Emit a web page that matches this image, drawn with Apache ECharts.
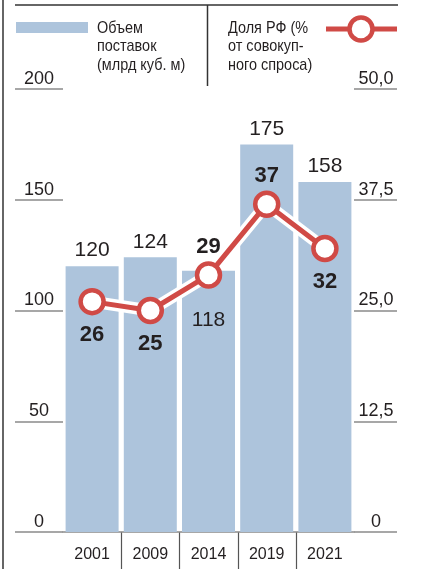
<!DOCTYPE html>
<html><head><meta charset="utf-8">
<script src="https://cdn.jsdelivr.net/npm/echarts@6/dist/echarts.min.js"></script>
<style>html,body{margin:0;padding:0;background:#fff}#c{width:425px;height:569px}</style>
</head><body><div id="c"></div>
<script>
// ---- data ----
const categories = ['2001', '2009', '2014', '2019', '2021'];
const volume = [120, 124, 118, 175, 158];          // млрд куб. м (left axis)
const share = [26, 25, 29, 37, 32];                // % (right axis)
const leftTicks = { min: 0, max: 200, interval: 50 };
const rightTicks = { min: 0, max: 50, interval: 12.5 };
const legendVolume = 'Объем\nпоставок\n(млрд куб. м)';
const legendShare = 'Доля РФ (%\nот совокуп-\nного спроса)';

// ---- styling ----
const SANS = "'Liberation Sans',Arial,sans-serif";
const BAR = '#adc4dc';
const RED = '#d04a46';
const TXT = '#231f20';
const GREY = '#8a8a8a';
const shareLabelPos = ['bottom', 'bottom', 'top', 'top', 'bottom'];
const volumeInside = [false, false, true, false, false];

const chart = echarts.init(document.getElementById('c'));

const option = {
  animation: false,
  backgroundColor: '#fff',
  grid: { left: 63, right: 71, top: 89, bottom: 37 },
  xAxis: {
    type: 'category', data: categories,
    axisLine: { show: true, lineStyle: { color: GREY, width: 1.5 } },
    axisTick: { show: false },
    axisLabel: { color: TXT, fontFamily: SANS, fontSize: 16, margin: 15 },
    splitLine: { show: false }
  },
  yAxis: [
    {
      type: 'value', position: 'left', ...leftTicks,
      axisLine: { show: false },
      axisTick: { show: true, length: 48, lineStyle: { color: GREY, width: 1.5 } },
      axisLabel: { color: TXT, fontFamily: SANS, fontSize: 18, margin: 24, align: 'center', verticalAlign: 'bottom', padding: [0, 0, 1, 0] },
      splitLine: { show: false }
    },
    {
      type: 'value', position: 'right', ...rightTicks,
      axisLine: { show: false },
      axisTick: { show: true, length: 43, lineStyle: { color: GREY, width: 1.5 } },
      axisLabel: {
        color: TXT, fontFamily: SANS, fontSize: 18, margin: 22, align: 'center', verticalAlign: 'bottom', padding: [0, 0, 1, 0],
        formatter: v => v === 0 ? '0' : v.toFixed(1).replace('.', ',')
      },
      splitLine: { show: false }
    }
  ],
  series: [
    {
      type: 'bar', yAxisIndex: 0, barWidth: 53,
      itemStyle: { color: BAR },
      data: volume.map((v, i) => ({
        value: v,
        label: volumeInside[i]
          ? { show: true, position: 'insideTop', distance: 39 }
          : { show: true, position: 'top', distance: 5 }
      })),
      label: { color: TXT, fontFamily: SANS, fontSize: 21 },
      z: 1
    },
    {
      type: 'line', yAxisIndex: 1, data: share, symbol: 'none', silent: true,
      lineStyle: { color: '#fff', width: 12 }, z: 2
    },
    {
      type: 'line', yAxisIndex: 1, symbol: 'circle', symbolSize: 23,
      lineStyle: { color: RED, width: 5 },
      itemStyle: { color: '#fff', borderColor: RED, borderWidth: 4.5 },
      data: share.map((v, i) => ({
        value: v,
        label: { show: true, position: shareLabelPos[i], distance: shareLabelPos[i] === 'top' ? 3 : 9 }
      })),
      label: { color: TXT, fontFamily: SANS, fontWeight: 'bold', fontSize: 22 },
      z: 3
    }
  ],
  graphic: [
    { type: 'line', shape: { x1: 3, y1: 0, x2: 3, y2: 569 }, style: { stroke: '#333', lineWidth: 1.5 } },
    { type: 'line', shape: { x1: 15, y1: 5, x2: 398, y2: 5 }, style: { stroke: '#333', lineWidth: 1.5 } },
    { type: 'line', shape: { x1: 207.5, y1: 5, x2: 207.5, y2: 86 }, style: { stroke: '#333', lineWidth: 1.5 } },
    { type: 'rect', shape: { x: 16, y: 22, width: 72, height: 11 }, style: { fill: BAR } },
    { type: 'text', x: 97, y: 19, scaleX: 0.85, style: { text: legendVolume, font: "17px " + SANS, fill: TXT, lineHeight: 18.5 } },
    { type: 'text', x: 228, y: 19, scaleX: 0.85, style: { text: legendShare, font: "17px " + SANS, fill: TXT, lineHeight: 18.5 } },
    { type: 'line', shape: { x1: 326, y1: 29, x2: 397, y2: 29 }, style: { stroke: RED, lineWidth: 5 } },
    { type: 'circle', shape: { cx: 361, cy: 29, r: 11.5 }, style: { fill: '#fff', stroke: RED, lineWidth: 4.5 } }
  ]
};
chart.setOption(option);

// category separators below the axis
const centers = categories.map(c => chart.convertToPixel({ xAxisIndex: 0 }, c));
const y0 = chart.convertToPixel({ yAxisIndex: 0 }, 0);
const seps = [];
for (let i = 0; i < centers.length - 1; i++) {
  const x = Math.round((centers[i] + centers[i + 1]) / 2) + 0.5;
  seps.push({ type: 'line', shape: { x1: x, y1: y0, x2: x, y2: 569 }, style: { stroke: '#555', lineWidth: 1.2 } });
}
chart.setOption({ graphic: option.graphic.concat(seps) });
</script>
</body></html>
